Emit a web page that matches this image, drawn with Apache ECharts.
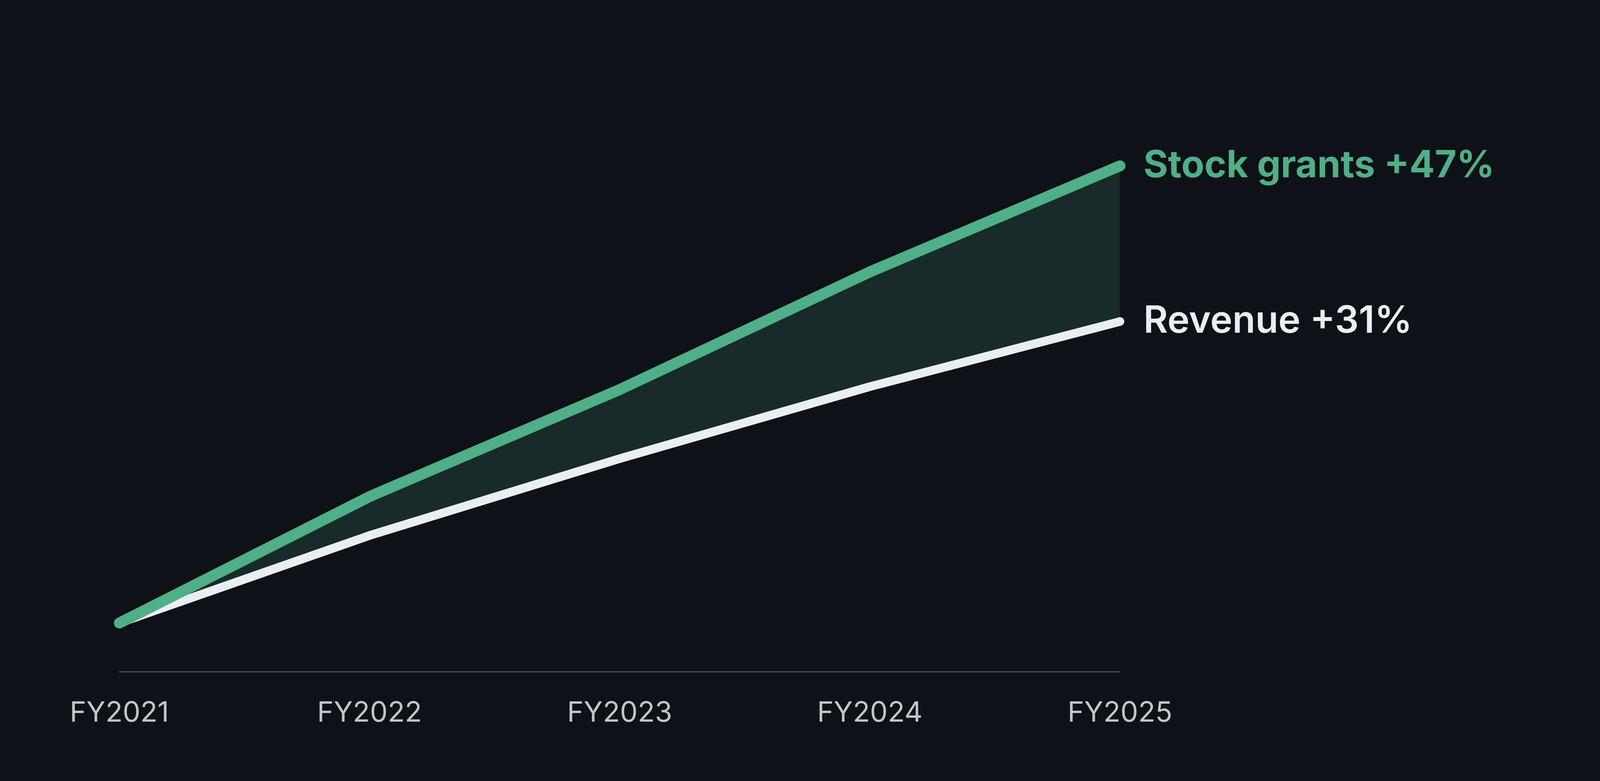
<!DOCTYPE html>
<html>
<head>
<meta charset="utf-8">
<script src="https://cdn.jsdelivr.net/npm/echarts@6/dist/echarts.min.js"></script>
<style>
  html, body { margin: 0; padding: 0; background: #0e1117; overflow: hidden; }
  #chart { width: 100vw; height: 100vh; }
</style>
</head>
<body>
<div id="chart"></div>
<script>
// indexed values, FY2021 = 100
const years = ['FY2021', 'FY2022', 'FY2023', 'FY2024', 'FY2025'];
const stockGrants = [100, 113, 124, 136.1, 147];
const revenue = [100, 109, 116.9, 124.3, 131];
const seriesNames = ['Stock grants', 'Revenue'];

function growthLabel(name, values) {
    const pct = Math.round((values[values.length - 1] / values[0] - 1) * 100);
    return name + ' +' + pct + '%';
}

// gap between the two lines, stacked on top of revenue to make the band
let gap = [];
for (let i = 0; i < years.length; i++) {
    gap.push(+(stockGrants[i] - revenue[i]).toFixed(2));
}

const green = '#4faf87';
const white = '#e9eef2';

var chart = echarts.init(document.getElementById('chart'));
chart.setOption({
    backgroundColor: '#0e1117',
    animation: false,
    grid: {
        left: '7.46%',
        right: '30%',
        top: 350,
        bottom: 280
    },
    xAxis: {
        type: 'category',
        boundaryGap: false,
        data: years,
        axisLine: {
            lineStyle: { color: '#4b4f55', width: 3 }
        },
        axisTick: { show: false },
        axisLabel: {
            color: '#c3c5c8',
            fontSize: 72,
            fontFamily: 'Inter',
            margin: 70
        }
    },
    yAxis: {
        type: 'value',
        min: 95,
        max: 150,
        show: false,
        splitLine: { show: false }
    },
    series: [
        {
            name: 'base',
            type: 'line',
            stack: 'band',
            data: revenue,
            symbol: 'none',
            lineStyle: { opacity: 0 },
            silent: true
        },
        {
            name: 'gap',
            type: 'line',
            stack: 'band',
            data: gap,
            symbol: 'none',
            lineStyle: { opacity: 0 },
            areaStyle: { color: '#182a29', opacity: 1 },
            silent: true
        },
        {
            name: seriesNames[1],
            type: 'line',
            data: revenue,
            symbol: 'none',
            z: 3,
            lineStyle: { color: white, width: 22, cap: 'round', join: 'round' },
            endLabel: {
                show: true,
                formatter: function () { return growthLabel(seriesNames[1], revenue); },
                color: white,
                fontSize: 96,
                fontWeight: 600,
                fontFamily: 'Inter',
                distance: 60
            }
        },
        {
            name: seriesNames[0],
            type: 'line',
            data: stockGrants,
            symbol: 'none',
            z: 4,
            lineStyle: { color: green, width: 28, cap: 'round', join: 'round' },
            endLabel: {
                show: true,
                formatter: function () { return growthLabel(seriesNames[0], stockGrants); },
                color: green,
                fontSize: 96,
                fontWeight: 700,
                fontFamily: 'Inter',
                distance: 60
            }
        }
    ]
});

window.addEventListener('resize', function () {
    chart.resize();
});
</script>
</body>
</html>
